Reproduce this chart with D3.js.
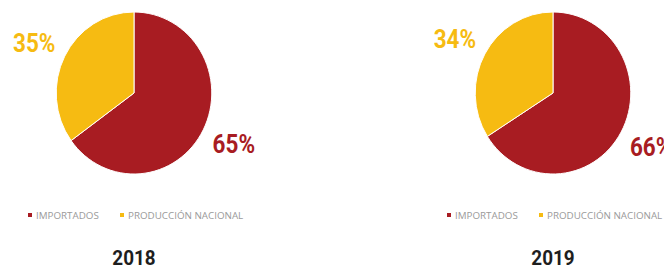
<!DOCTYPE html>
<html>
<head>
<meta charset="utf-8">
<script src="https://cdn.jsdelivr.net/npm/d3@7"></script>
<style>
  body { margin: 0; background: #fff; }
  svg { display: block; }
</style>
</head>
<body>
<div id="chart"></div>
<script>
// data
const years = ["2018", "2019"];
const categories = ["IMPORTADOS", "PRODUCCIÓN NACIONAL"];
const shares2018 = [65, 35];
const shares2019 = [66, 34];
const seriesByYear = [shares2018, shares2019];

const colors = { "IMPORTADOS": "#a81c22", "PRODUCCIÓN NACIONAL": "#f6bb12" };

var width = 664, height = 273;
var radius = 81, labelRadius = 112;
var centers = [{ x: 134, y: 93 }, { x: 553, y: 93 }];

var svg = d3.select("#chart")
  .append("svg")
    .attr("width", width)
    .attr("height", height);

var pie = d3.pie().sort(null).value(d => d.value);
var arc = d3.arc().innerRadius(0).outerRadius(radius);
var labelArc = d3.arc().innerRadius(labelRadius).outerRadius(labelRadius);

years.forEach((year, i) => {
  const data = categories.map((c, j) => ({ cat: c, value: seriesByYear[i][j] }));
  const arcs = pie(data);
  const c = centers[i];

  const g = svg.append("g")
    .attr("transform", `translate(${c.x},${c.y})`);

  // slices (slightly narrower horizontally like the source image)
  g.append("g")
    .attr("transform", "scale(0.96,1)")
    .selectAll("path")
    .data(arcs)
    .enter()
    .append("path")
      .attr("d", arc)
      .attr("fill", d => colors[d.data.cat])
      .attr("stroke", "#fff")
      .attr("stroke-width", 1);

  // percentage labels outside, condensed bold look
  g.selectAll("g.pct")
    .data(arcs)
    .enter()
    .append("g")
      .attr("class", "pct")
      .attr("transform", d => `translate(${labelArc.centroid(d)[0]},${labelArc.centroid(d)[1] + 1}) scale(0.9,1)`)
    .append("text")
      .attr("text-anchor", "middle")
      .attr("dominant-baseline", "central")
      .style("font-family", "Roboto, 'Liberation Sans', sans-serif")
      .style("font-weight", "bold")
      .style("font-size", "25px")
      .attr("fill", d => colors[d.data.cat])
      .text(d => d.data.value + "%");

  // legend
  const legend = g.append("g")
    .attr("transform", "translate(-104,122)");
  const legendX = d3.scalePoint().domain(categories).range([0, 92]);
  categories.forEach(cat => {
    legend.append("rect")
      .attr("x", legendX(cat) - 2)
      .attr("y", -2)
      .attr("width", 4)
      .attr("height", 4)
      .attr("fill", colors[cat]);
    legend.append("text")
      .attr("x", legendX(cat) + 6)
      .attr("y", 0)
      .attr("dominant-baseline", "central")
      .style("font-family", "'Open Sans', sans-serif")
      .style("font-size", "9.8px")
      .attr("fill", "#9a9a9a")
      .text(cat);
  });

  // year title
  g.append("g")
    .attr("transform", "translate(0,172) scale(0.9,1)")
    .append("text")
      .attr("text-anchor", "middle")
      .style("font-family", "Roboto, 'Liberation Sans', sans-serif")
      .style("font-weight", "bold")
      .style("font-size", "21px")
      .attr("fill", "#1e1e1e")
      .text(year);
});
</script>
</body>
</html>
